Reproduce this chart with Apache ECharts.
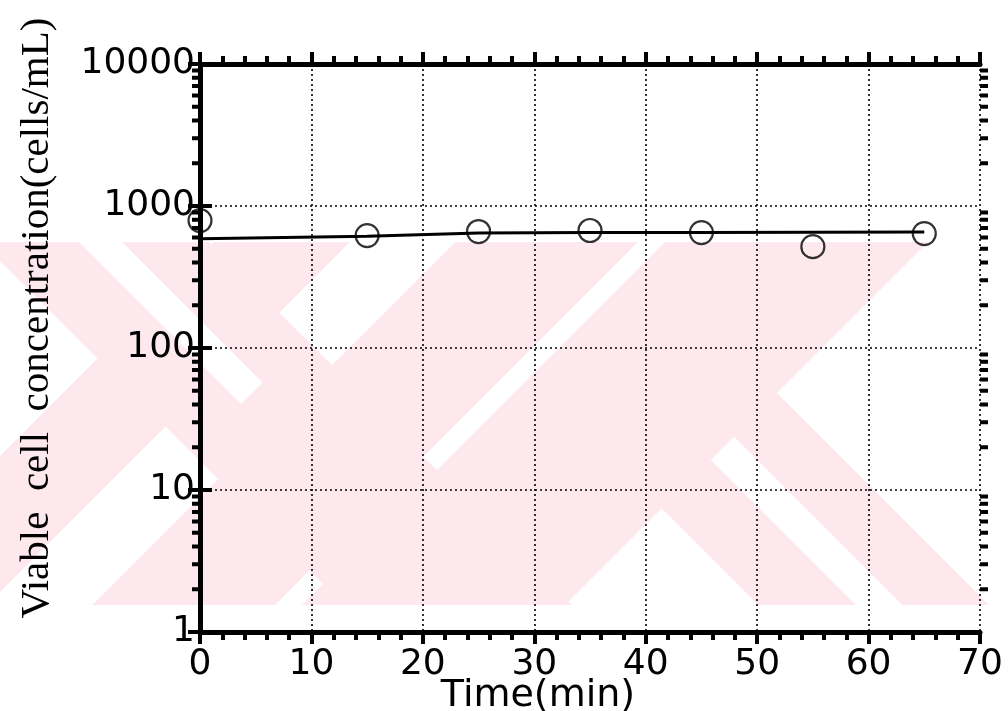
<!DOCTYPE html>
<html>
<head>
<meta charset="utf-8">
<title>Viable cell concentration vs time</title>
<script src="https://cdn.jsdelivr.net/npm/echarts@6/dist/echarts.min.js"></script>
<style>
  html, body { margin: 0; padding: 0; background: #fff; }
  #chart { width: 1008px; height: 711px; }
</style>
</head>
<body>
<div id="chart"></div>
<script>
// Sampling times (min) and measured viable cell concentrations (cells/mL)
const pointTimes  = [0, 15, 25, 35, 45, 55, 65];
const pointValues = [790, 619, 661, 672, 650, 517, 639];

// Connecting trend line (passes over the 55 min sample)
const lineTimes  = [0, 15, 25, 35, 45, 65];
const lineValues = [589, 612, 645, 650, 650, 655];

// Axis ticks
const xTicks = [0, 10, 20, 30, 40, 50, 60, 70];
const yDecades = [1, 10, 100, 1000, 10000];
// Logarithmic minor tick values (2..9 in each decade)
const yMinorTicks = [];
for (let e = 0; e < 4; e++) {
  for (let k = 2; k <= 9; k++) yMinorTicks.push(k * Math.pow(10, e));
}

const chart = echarts.init(document.getElementById('chart'), null, { renderer: 'canvas' });

// Faint background emblem built from 45-degree stripes, clipped to a band
function clipPoly(poly, f) {
  // keep points where f(p) >= 0
  const out = [];
  for (let i = 0; i < poly.length; i++) {
    const a = poly[i], b = poly[(i + 1) % poly.length];
    const fa = f(a), fb = f(b);
    if (fa >= 0) out.push(a);
    if ((fa >= 0) !== (fb >= 0)) {
      const t = fa / (fa - fb);
      out.push([a[0] + t * (b[0] - a[0]), a[1] + t * (b[1] - a[1])]);
    }
  }
  return out;
}
function stripe(o) {
  const y0 = 242, y1 = 605;
  let p = [[0, y0], [1008, y0], [1008, y1], [0, y1]];
  if (o.dMin != null) p = clipPoly(p, q => (q[0] - q[1]) - o.dMin);
  if (o.dMax != null) p = clipPoly(p, q => o.dMax - (q[0] - q[1]));
  if (o.cMin != null) p = clipPoly(p, q => (q[0] + q[1]) - o.cMin);
  if (o.cMax != null) p = clipPoly(p, q => o.cMax - (q[0] + q[1]));
  return p;
}
const pink = '#fde9ed';
const emblem = [
  { s: { cMin: 456, cMax: 592 }, c: pink },
  { s: { dMin: -261, dMax: -33 }, c: pink },
  { s: { cMin: 697, cMax: 880 }, c: pink },
  { s: { cMin: 907, cMax: 1170 }, c: pink },
  { s: { dMin: 153, dMax: 384, cMin: 1170 }, c: pink },
  { s: { dMin: -163, dMax: -120, cMax: 645 }, c: '#ffffff' },
  { s: { dMin: 251, dMax: 297, cMin: 1171 }, c: '#ffffff' }
].map(e => ({
  type: 'polygon',
  silent: true,
  z: -10,
  shape: { points: stripe(e.s) },
  style: { fill: e.c }
}));

const gridDotted = { show: true, lineStyle: { color: '#000', width: 1.6, type: [2, 3] } };
const frameLine = { show: true, lineStyle: { color: '#000', width: 5 } };
const majorTick = { show: true, length: 12, lineStyle: { color: '#000', width: 4 } };
const minorTickX = { show: true, splitNumber: 5, length: 8, lineStyle: { color: '#000', width: 4 } };

const xBase = {
  type: 'value', min: 0, max: 70, interval: 10,
  axisLine: frameLine, axisTick: majorTick, minorTick: minorTickX
};
const yBase = {
  type: 'log', logBase: 10, min: 1, max: 10000,
  axisLine: frameLine, axisTick: majorTick
};

chart.setOption({
  animation: false,
  backgroundColor: '#fff',
  graphic: emblem,
  grid: {
    left: 200, right: 28, top: 64, bottom: 79,
    containLabel: false, outerBoundsMode: 'none'
  },
  xAxis: [
    Object.assign({}, xBase, {
      position: 'bottom',
      splitLine: gridDotted,
      axisLabel: {
        margin: 15, color: '#000', fontFamily: 'DejaVu Sans', fontSize: 36,
        formatter: v => xTicks.includes(v) ? String(v) : ''
      },
      name: 'Time(min)', nameLocation: 'middle', nameGap: 45, nameMoveOverlap: false,
      nameTextStyle: {
        color: '#000', fontFamily: 'DejaVu Sans', fontSize: 38,
        padding: [0, 104, 0, 0]
      }
    }),
    Object.assign({}, xBase, {
      position: 'top',
      splitLine: { show: false },
      axisLabel: { show: false }
    })
  ],
  yAxis: [
    Object.assign({}, yBase, {
      position: 'left',
      splitLine: gridDotted,
      axisLabel: {
        margin: 5, color: '#000', fontFamily: 'DejaVu Sans', fontSize: 36,
        formatter: v => yDecades.includes(v) ? String(v) : ''
      },
      name: 'Viable  cell  concentration(cells/mL)', nameLocation: 'middle', nameGap: 142,
      nameMoveOverlap: false,
      nameTextStyle: {
        color: '#000', fontFamily: 'Liberation Serif', fontSize: 41,
        padding: [0, 0, 0, 60]
      }
    }),
    Object.assign({}, yBase, {
      position: 'right',
      splitLine: { show: false },
      axisLabel: { show: false }
    })
  ],
  series: [
    {
      // logarithmic minor ticks on the left and right frame
      type: 'custom',
      silent: true,
      clip: false,
      z: 5,
      data: yMinorTicks.map(v => [0, v]),
      renderItem: function (params, api) {
        const p = api.coord([0, api.value(1)]);
        const cs = params.coordSys;
        const left = cs.x, right = cs.x + cs.width;
        const st = { stroke: '#000', lineWidth: 4 };
        return {
          type: 'group',
          children: [
            { type: 'line', shape: { x1: left - 8, y1: p[1], x2: left, y2: p[1] }, style: st },
            { type: 'line', shape: { x1: right, y1: p[1], x2: right + 8, y2: p[1] }, style: st }
          ]
        };
      }
    },
    {
      type: 'line',
      data: lineTimes.map((t, i) => [t, lineValues[i]]),
      showSymbol: false,
      lineStyle: { color: '#000', width: 3 },
      z: 3
    },
    {
      type: 'scatter',
      data: pointTimes.map((t, i) => [t, pointValues[i]]),
      symbol: 'circle',
      symbolSize: 23,
      itemStyle: { color: 'rgba(0,0,0,0)', borderColor: '#000', borderWidth: 2.2 },
      z: 4
    }
  ]
});
</script>
</body>
</html>
